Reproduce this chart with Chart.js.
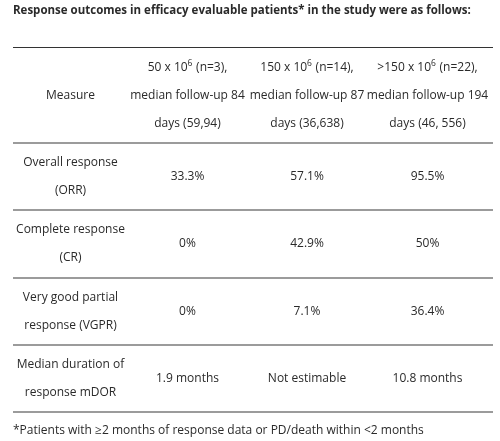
<!DOCTYPE html>
<html><head><meta charset="utf-8">
<script src="https://cdn.jsdelivr.net/npm/chart.js@4/dist/chart.umd.min.js"></script>
<style>html,body{margin:0;padding:0;background:#fff}canvas{display:block}</style>
</head><body>
<canvas id="c" width="500" height="441"></canvas>
<script>
// ---- data ----
const title = "Response outcomes in efficacy evaluable patients* in the study were as follows:";
const footnote = "*Patients with \u22652 months of response data or PD/death within <2 months";
const columnHeaders = [
  ["Measure"],
  ["50 x 10\u2076 (n=3),", "median follow-up 84", "days (59,94)"],
  ["150 x 10\u2076 (n=14),", "median follow-up 87", "days (36,638)"],
  [">150 x 10\u2076 (n=22),", "median follow-up 194", "days (46, 556)"]
];
const measures = [
  ["Overall response", "(ORR)"],
  ["Complete response", "(CR)"],
  ["Very good partial", "response (VGPR)"],
  ["Median duration of", "response mDOR"]
];
const dose50 = ["33.3%", "0%", "0%", "1.9 months"];
const dose150 = ["57.1%", "42.9%", "7.1%", "Not estimable"];
const doseOver150 = ["95.5%", "50%", "36.4%", "10.8 months"];

// ---- layout (not data) ----
const FONT = "'Open Sans', 'Noto Sans', sans-serif";
const LINE_H = 28;
const colWidths = [115, 119, 120, 121];
const tableWidth = 480;
const TEXT = '#2a2a2a';

const rowTexts = [columnHeaders.map(h => h), ...measures.map((m, i) => [m, [dose50[i]], [dose150[i]], [doseOver150[i]]])];
const rowLines = rowTexts.map(r => Math.max(...r.map(c => c.length)));
const rowHeights = rowLines.map(n => n * LINE_H + (n === 3 ? 12 : 11));
const boundaries = [0];
rowHeights.forEach(h => boundaries.push(boundaries[boundaries.length - 1] + h));
const rowCenters = rowHeights.map((h, i) => boundaries[i] + h / 2);
const colCenters = [];
{ let acc = 0; colWidths.forEach(w => { colCenters.push(acc + w / 2); acc += w; }); }

const datasets = [0, 1, 2, 3].map(ci => ({
  label: 'col' + ci,
  data: rowTexts.map((r, ri) => ({ x: colCenters[ci], y: rowCenters[ri], lines: r[ci] })),
  pointRadius: 0,
  showLine: false
}));

function drawRich(ctx, str, cx, cy, font, supFont) {
  // render U+2076 as raised small "6"
  const parts = str.split('\u2076');
  const widths = [];
  let total = 0;
  parts.forEach((p, i) => {
    ctx.font = font; const w = ctx.measureText(p).width; widths.push(w); total += w;
    if (i < parts.length - 1) { ctx.font = supFont; total += ctx.measureText('6').width + 0.5; }
  });
  let x = cx - total / 2;
  ctx.textAlign = 'left';
  parts.forEach((p, i) => {
    ctx.font = font; ctx.fillText(p, x, cy); x += widths[i];
    if (i < parts.length - 1) {
      ctx.font = supFont; ctx.fillText('6', x, cy - 4); x += ctx.measureText('6').width + 0.5;
    }
  });
}

const tablePlugin = {
  id: 'tablePlugin',
  afterDraw(chart) {
    const ctx = chart.ctx;
    const ys = chart.scales.y, xs = chart.scales.x;
    ctx.save();
    // rules
    boundaries.forEach((b, i) => {
      const y = Math.round(ys.getPixelForValue(b));
      ctx.beginPath();
      ctx.strokeStyle = i === 0 ? '#333' : '#7a7a7a';
      ctx.lineWidth = i === 0 ? 1 : 1.6;
      ctx.moveTo(xs.getPixelForValue(0), y + (i === 0 ? 0.5 : 0));
      ctx.lineTo(xs.getPixelForValue(tableWidth), y + (i === 0 ? 0.5 : 0));
      ctx.stroke();
    });
    // cell text
    ctx.fillStyle = TEXT;
    ctx.textBaseline = 'middle';
    const font = "12px " + FONT;
    const supFont = "8.5px " + FONT;
    chart.data.datasets.forEach((ds, di) => {
      const meta = chart.getDatasetMeta(di);
      meta.data.forEach((el, k) => {
        const lines = ds.data[k].lines;
        const n = lines.length;
        lines.forEach((t, li) => {
          const y = el.y + (li - (n - 1) / 2) * LINE_H;
          drawRich(ctx, t, el.x, y, font, supFont);
        });
      });
    });
    // title & footnote
    ctx.textAlign = 'left';
    ctx.font = "bold 11.5px " + FONT;
    ctx.fillText(title, 13, 11);
    ctx.font = "12px " + FONT;
    ctx.fillText(footnote, 13, 431);
    ctx.restore();
  }
};

new Chart(document.getElementById('c'), {
  type: 'scatter',
  data: { datasets },
  options: {
    responsive: false,
    animation: false,
    events: [],
    layout: { padding: { top: 47, bottom: 29, left: 13, right: 7 } },
    plugins: { legend: { display: false }, tooltip: { enabled: false }, title: { display: false } },
    scales: {
      x: { type: 'linear', min: 0, max: tableWidth, display: false },
      y: { type: 'linear', min: 0, max: boundaries[boundaries.length - 1], reverse: true, display: false }
    }
  },
  plugins: [tablePlugin]
});
</script>
</body></html>
